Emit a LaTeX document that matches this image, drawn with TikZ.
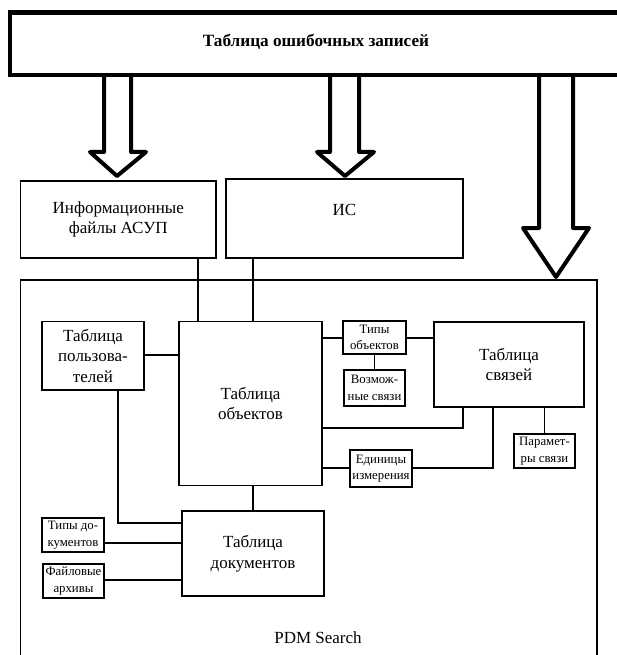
\documentclass[tikz,border=0pt]{standalone}
\usepackage{fontspec}
\setmainfont{Liberation Serif}
\newcommand\fbig{\fontsize{17}{20.5}\selectfont}
\newcommand\fsmall{\fontsize{12.8}{16.5}\selectfont}
\begin{document}
\begin{tikzpicture}[x=1pt,y=-1pt,
  box/.style={draw, line width=1.2pt, inner sep=0pt, align=center, fill=white},
  bigbox/.style={box, font=\fbig},
  smallbox/.style={box, font=\fsmall},
  conn/.style={line width=1.2pt},
  hollow/.style={line width=4pt, line join=round, line cap=butt}]
\useasboundingbox (0,0) rectangle (617,655);
% container
\node[box, minimum width=576.5, minimum height=385] (cont) at (308.75,472.5) {};
\node[font=\fbig] (pdm) at (318,638) {PDM Search};
% hollow arrows
\draw[hollow] (104,74) -- (104,152) -- (90,152) -- (117,176) -- (146,152) -- (131,152) -- (131,74);
\draw[hollow] (330,74) -- (330,152) -- (317,152) -- (345,176) -- (374,152) -- (359,152) -- (359,74);
\draw[hollow] (539,74) -- (539,228) -- (523,228) -- (556,277) -- (589,228) -- (573,228) -- (573,74);
% top box
\node[draw, line width=4.5pt, fill=white, minimum width=612, minimum height=62.3, inner sep=0pt] (top) at (316,43.85) {};
\node[font=\fontsize{17.2}{20}\selectfont\bfseries] (toptext) at (316,42) {Таблица ошибочных записей};
% upper boxes
\node[bigbox, minimum width=195.5, minimum height=77] (info) at (118.25,219.5) {Информационные\\файлы АСУП};
\node[bigbox, minimum width=237, minimum height=79] (is) at (344.5,218.5) {};
\node[font=\fbig] (istext) at (344.5,210) {ИС};
% inner boxes
\node[bigbox, minimum width=102, minimum height=68.3] (users) at (93,355.85) {Таблица\\пользова-\\телей};
\node[bigbox, minimum width=143, minimum height=164] (objects) at (250.5,403.7) {Таблица\\объектов};
\node[smallbox, minimum width=63, minimum height=33] (types) at (374.5,337.5) {Типы\\объектов};
\node[smallbox, minimum width=61, minimum height=36] (possible) at (374.5,388) {Возмож-\\ные связи};
\node[bigbox, minimum width=150, minimum height=85] (links) at (509,364.5) {Таблица\\связей};
\node[smallbox, minimum width=61, minimum height=34] (params) at (544.5,451) {Парамет-\\ры связи};
\node[smallbox, minimum width=62, minimum height=37] (units) at (381,468.5) {Единицы\\измерения};
\node[bigbox, minimum width=142, minimum height=85] (docs) at (253,553.5) {Таблица\\документов};
\node[smallbox, minimum width=62, minimum height=34] (doctypes) at (73,535) {Типы до-\\кументов};
\node[smallbox, minimum width=61, minimum height=34] (files) at (73.5,581) {Файловые\\архивы};
% connectors
\draw[conn] (info.south -| 198,0) -- (objects.north -| 198,0);
\draw[conn] (is.south -| 253,0) -- (objects.north -| 253,0);
\draw[conn] (users.east |- 0,355) -- (objects.west |- 0,355);
\draw[conn] (users.south -| 118,0) |- (docs.west |- 0,523);
\draw[conn] (objects.east |- 0,338) -- (types.west |- 0,338);
\draw[conn] (types.east |- 0,338) -- (links.west |- 0,338);
\draw[conn] (types.south) -- (possible.north);
\draw[conn] (objects.east |- 0,428) -| (links.south -| 463,0);
\draw[conn] (objects.east |- 0,468) -- (units.west |- 0,468);
\draw[conn] (units.east |- 0,468) -| (links.south -| 493,0);
\draw[conn] (links.south -| params.north) -- (params.north);
\draw[conn] (objects.south -| 253,0) -- (docs.north -| 253,0);
\draw[conn] (doctypes.east |- 0,543) -- (docs.west |- 0,543);
\draw[conn] (files.east |- 0,580) -- (docs.west |- 0,580);
\end{tikzpicture}
\end{document}
